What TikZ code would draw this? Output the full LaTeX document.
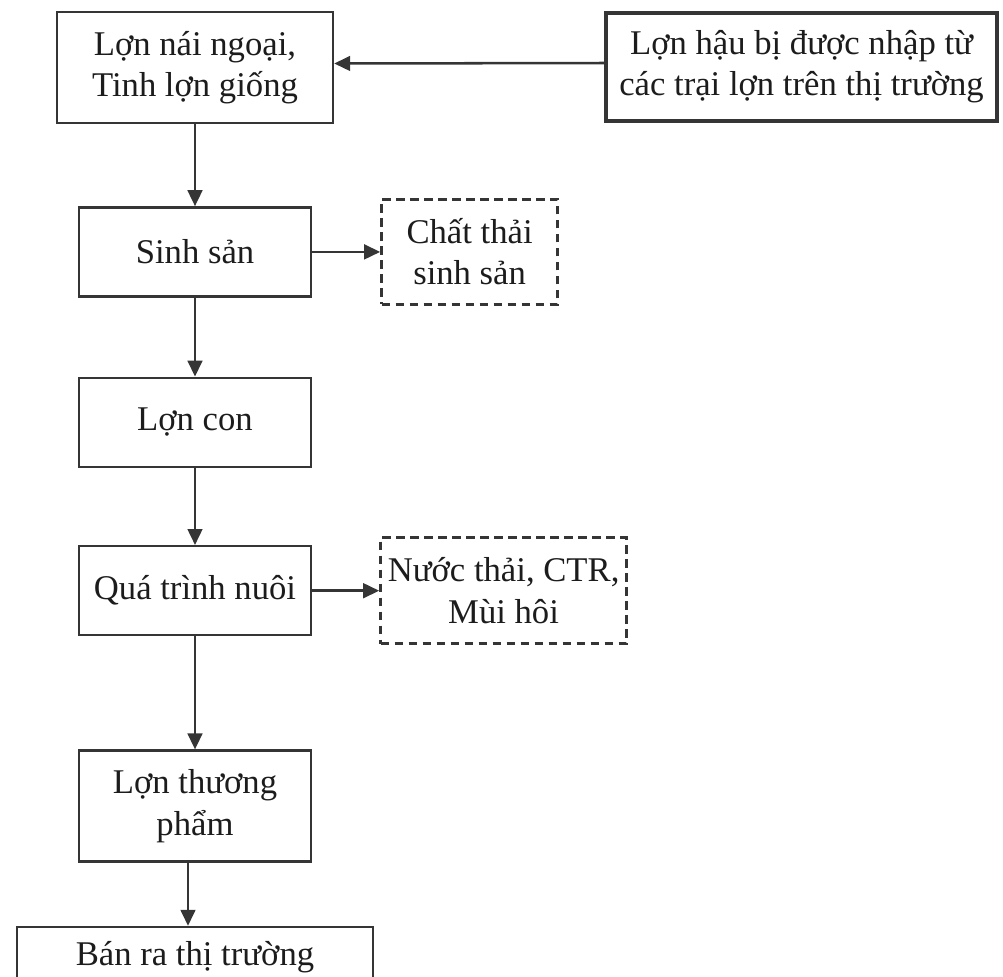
\documentclass[tikz,border=0pt]{standalone}
\usepackage{fontspec}
\setmainfont{Liberation Serif}
\usepackage{tikz}
\usetikzlibrary{arrows.meta}
\usetikzlibrary{positioning}
\definecolor{linie}{HTML}{353535}
\definecolor{schrift}{HTML}{1C1C1C}
\newcommand{\TikZscale}{0.75}
\newcommand{\px}{*\TikZscale pt}
\tikzset{every picture/.style={node distance=80\px, >={Triangle[length=12pt,width=11pt]}}}
\tikzstyle{block}      = [draw=linie, line width=1.8pt, rectangle, minimum height=89\px, minimum width=232\px, inner sep=2pt, align=center, text=schrift, font=\fontsize{26}{31}\selectfont]
\tikzstyle{dashblock}  = [block, line width=2.1pt, dash pattern=on 6.5pt off 4pt]
\tikzstyle{flow}       = [->, line width=1.9pt, draw=linie]

\begin{document}
\begin{tikzpicture}[x=\TikZscale pt, y=-\TikZscale pt]
	\useasboundingbox (0,0) rectangle (1003,976);
	\node[block, minimum width=276\px, minimum height=111\px]	(nai) at (195,67.5) {Lợn nái ngoại,\\Tinh lợn giống};
	\node[block, line width=2.6pt, minimum width=391\px, minimum height=108\px]	(haubi) at (801.5,67) {Lợn hậu bị được nhập từ\\các trại lợn trên thị trường};
	\node[block]		(sinhsan) 	[below=82\px of nai] 			{Sinh sản};
	\node[dashblock, minimum width=176\px, minimum height=105\px]	(chatthai)	[right=68\px of sinhsan]	{Chất thải\\sinh sản};
	\node[block]		(loncon)		[below=79\px of sinhsan]	{Lợn con};
	\node[block]		(nuoi)			[below=77\px of loncon]		{Quá trình nuôi};
	\node[dashblock, minimum width=246\px, minimum height=106\px]	(nuocthai)	[right=67\px of nuoi]	{Nước thải, CTR,\\Mùi hôi};
	\node[block, minimum height=111\px]	(thuongpham) [below=113\px of nuoi]	{Lợn thương\\phẩm};
	\node[block, minimum width=356\px, minimum height=60\px]	(banra)	[below=63\px of thuongpham]	{Bán ra thị trường};
	
	\draw[flow] ([yshift=4\px]haubi.west) -- ([yshift=4\px]nai.east);
	\draw[flow] (nai) -- (sinhsan);
	\draw[flow] (sinhsan) -- (chatthai);
	\draw[flow] (sinhsan) -- (loncon);
	\draw[flow] (loncon) -- (nuoi);
	\draw[flow] (nuoi) -- (nuocthai);
	\draw[flow] (nuoi) -- (thuongpham);
	\draw[flow] ([xshift=-7\px]thuongpham.south) -- ([xshift=-7\px]banra.north);
\end{tikzpicture}
\end{document}
